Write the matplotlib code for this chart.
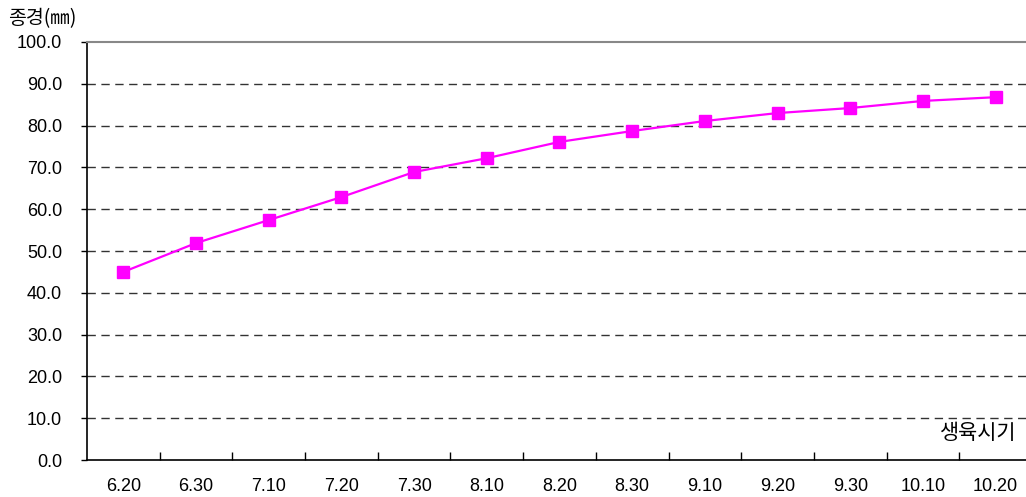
import matplotlib.pyplot as plt
import numpy as np

# growth period (month.day) and fruit diameter in mm
dates = ['6.20', '6.30', '7.10', '7.20', '7.30', '8.10', '8.20',
         '8.30', '9.10', '9.20', '9.30', '10.10', '10.20']
diameter = [45.0, 51.9, 57.4, 62.9, 68.9, 72.2, 76.1,
            78.7, 81.1, 83.0, 84.2, 85.9, 86.8]
yticks = np.arange(0, 101, 10)

kr = ['Noto Sans CJK KR', 'DejaVu Sans']
num = ['Liberation Sans', 'DejaVu Sans']

fig = plt.figure(figsize=(10.26, 4.97), dpi=100)
ax = fig.add_axes([0.0848, 0.0744, 0.921, 0.8411])

x = np.arange(len(dates))
ax.plot(x, diameter, color='#ff00ff', lw=1.6, marker='s', ms=9,
        mec='#ff00ff', mfc='#ff00ff', zorder=3, clip_on=False)

ax.set_xlim(-0.5, len(dates) - 0.5)
ax.set_ylim(0, 100)

# dashed horizontal grid
for v in yticks[1:-1]:
    ax.axhline(v, color='#333333', lw=1, ls=(0, (6, 4)), zorder=1)

ax.set_yticks(yticks)
ax.set_yticklabels([f'{v:.1f}' for v in yticks], family=num, fontsize=13)
ax.tick_params(axis='y', direction='out', length=4, width=1, pad=14)

# category labels centred, tick marks on the boundaries
ax.set_xticks(x)
ax.set_xticklabels(dates, family=num, fontsize=13)
ax.set_xticks(np.arange(0.5, len(dates) - 0.5), minor=True)
ax.tick_params(axis='x', which='major', length=0, pad=13)
ax.tick_params(axis='x', which='minor', direction='in', length=6, width=1)

ax.spines['right'].set_visible(False)
ax.spines['top'].set_color('#888888')
ax.spines['top'].set_linewidth(1.5)
ax.spines['left'].set_linewidth(1.2)
ax.spines['bottom'].set_linewidth(1.2)

fig.text(0.008, 0.962, '종경(㎜)', family=kr, fontsize=14, va='center')
ax.text(0.984, 0.065, '생육시기', transform=ax.transAxes, family=kr,
        fontsize=15, ha='right', va='center')

fig.savefig('out.png', dpi=100)
